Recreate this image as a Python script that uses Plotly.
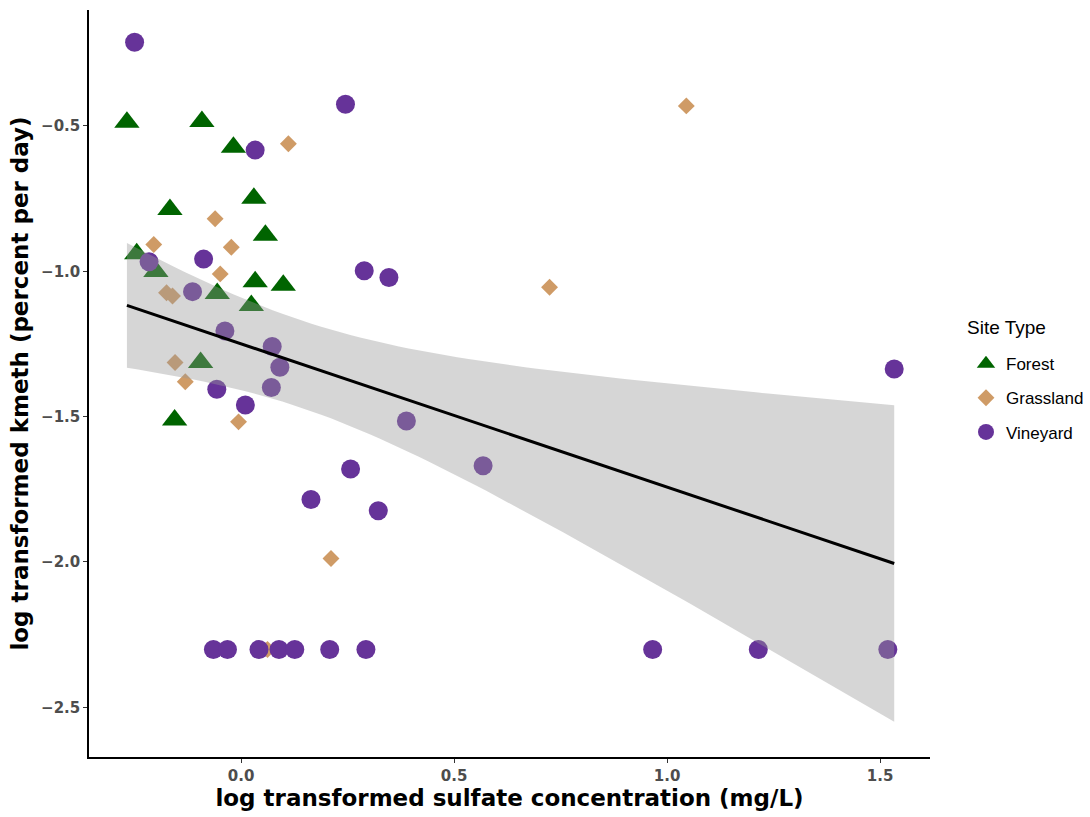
import numpy as np
import plotly.graph_objects as go

# log10 sulfate concentration (mg/L) and log10 kmeth (% per day), by site type
forest_x = [-0.268, -0.092, -0.018, 0.030, -0.167, 0.057, -0.245, -0.200,
            0.033, 0.099, -0.056, 0.024, -0.095, -0.156]
forest_y = [-0.487, -0.485, -0.573, -0.749, -0.787, -0.876, -0.940, -1.001,
            -1.036, -1.048, -1.076, -1.118, -1.314, -1.512]

grass_x = [0.111, -0.061, -0.205, -0.023, -0.049, -0.175, -0.161, -0.155,
           -0.131, -0.006, 0.211, 0.724, 1.045, 0.062]
grass_y = [-0.561, -0.819, -0.908, -0.917, -1.009, -1.074, -1.085, -1.314,
           -1.380, -1.518, -1.988, -1.055, -0.431, -2.301]

vine_x = [-0.250, 0.245, 0.033, -0.216, -0.088, -0.114, -0.038, 0.073,
          0.091, 0.071, -0.057, 0.010, 0.289, 0.347, 0.388, 0.257,
          0.164, 0.322, 0.568, 1.533,
          -0.065, -0.032, 0.042, 0.089, 0.126, 0.208, 0.293, 0.966, 1.214, 1.518]
vine_y = [-0.212, -0.425, -0.583, -0.967, -0.958, -1.070, -1.205, -1.259,
          -1.330, -1.400, -1.406, -1.460, -0.998, -1.021, -1.515, -1.680,
          -1.785, -1.824, -1.669, -1.336,
          -2.301, -2.301, -2.301, -2.301, -2.301, -2.301, -2.301, -2.301, -2.301, -2.301]

site_types = ["Forest", "Grassland", "Vineyard"]
site_colors = ["#006400", "#CF9B66", "#663399"]
site_symbols = ["triangle-up", "diamond", "circle"]
site_sizes = [22, 13, 19]

x_ticks = [0.0, 0.5, 1.0, 1.5]
y_ticks = [-0.5, -1.0, -1.5, -2.0, -2.5]

# Linear model over all sites with a 95% confidence band
all_x = np.array(forest_x + grass_x + vine_x)
all_y = np.array(forest_y + grass_y + vine_y)
n = len(all_x)
slope, intercept = np.polyfit(all_x, all_y, 1)
resid = all_y - (intercept + slope * all_x)
sigma = np.sqrt(np.sum(resid ** 2) / (n - 2))
x_mean = all_x.mean()
sxx = np.sum((all_x - x_mean) ** 2)
t_crit = 2.0032  # t(0.975, df = 56)
grid = np.linspace(all_x.min(), all_x.max(), 80)
fit = intercept + slope * grid
se = sigma * np.sqrt(1.0 / n + (grid - x_mean) ** 2 / sxx)
upper = fit + t_crit * se
lower = fit - t_crit * se

fig = go.Figure()

groups = [(forest_x, forest_y), (grass_x, grass_y), (vine_x, vine_y)]
for (gx, gy), name, col, sym, size in zip(groups, site_types, site_colors,
                                          site_symbols, site_sizes):
    fig.add_trace(go.Scatter(
        x=gx, y=gy, mode="markers", name=name, legendgroup=name,
        marker=dict(color=col, symbol=sym, size=size, line=dict(width=0)),
    ))

# Confidence ribbon drawn over the points, then the fitted line
fig.add_trace(go.Scatter(
    x=np.concatenate([grid, grid[::-1]]),
    y=np.concatenate([upper, lower[::-1]]),
    fill="toself", fillcolor="rgba(153,153,153,0.4)",
    line=dict(width=0), mode="lines", showlegend=False, hoverinfo="skip",
))
fig.add_trace(go.Scatter(
    x=grid, y=fit, mode="lines", line=dict(color="black", width=3),
    showlegend=False,
))

bold_family = "DejaVu Sans, sans-serif"
axis_font = dict(family=bold_family, size=15, color="#4D4D4D", weight="bold")
title_font = dict(family=bold_family, size=23, color="black", weight="bold")

fig.update_layout(
    width=1090, height=817,
    margin=dict(l=89, r=160, t=10, b=60, autoexpand=False),
    plot_bgcolor="white", paper_bgcolor="white",
    font=dict(family="Liberation Sans, Arial, sans-serif"),
    xaxis=dict(
        range=[-0.357, 1.617], tickvals=x_ticks, ticktext=[f"{v:.1f}" for v in x_ticks],
        showline=True, linecolor="black", linewidth=1.5, showgrid=False,
        zeroline=False, ticks="outside", ticklen=4, tickcolor="#333333",
        tickfont=axis_font,
        title=dict(text="log transformed sulfate concentration (mg/L)",
                   font=title_font, standoff=4),
    ),
    yaxis=dict(
        range=[-2.671, -0.101], tickvals=y_ticks,
        ticktext=[f"\u2212{abs(v):.1f}" for v in y_ticks],
        showline=True, linecolor="black", linewidth=1.5, showgrid=False,
        zeroline=False, ticks="outside", ticklen=4, tickcolor="#333333",
        tickfont=axis_font,
        title=dict(text="log transformed kmeth (percent per day)",
                   font=title_font, standoff=6),
    ),
    legend=dict(
        font=dict(size=17, color="black"),
        x=1.0428, xanchor="left", y=0.550, yanchor="top",
        traceorder="grouped", tracegroupgap=9,
        bgcolor="rgba(0,0,0,0)",
    ),
    annotations=[dict(
        text="Site Type", xref="paper", yref="paper", x=1.0416, y=0.5743,
        xanchor="left", yanchor="middle", showarrow=False,
        font=dict(size=19, color="black"),
    )],
)

fig.write_html("out.html")
